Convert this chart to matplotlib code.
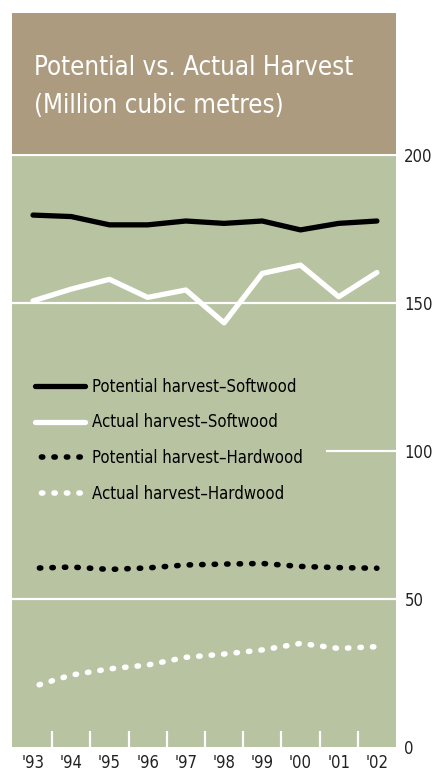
import matplotlib.pyplot as plt
from matplotlib.patches import Rectangle

years = ["'93", "'94", "'95", "'96", "'97", "'98", "'99", "'00", "'01", "'02"]
potential_soft = [179.7, 179.2, 176.4, 176.4, 177.7, 176.9, 177.7, 174.7, 176.9, 177.7]
actual_soft = [150.7, 154.7, 158.0, 151.9, 154.4, 143.3, 160.0, 162.8, 152.1, 160.3]
potential_hard = [60.4, 60.8, 60.0, 60.5, 61.5, 61.8, 62.0, 61.0, 60.6, 60.4]
actual_hard = [20.4, 24.3, 26.4, 27.7, 30.3, 31.4, 32.8, 35.0, 33.3, 33.9]
yticks = [0, 50, 100, 150, 200]

brown = '#ad9b80'
green = '#b7c3a1'
plt.rcParams['font.family'] = ['DejaVu Sans']
plt.rcParams['font.stretch'] = 'condensed'

W, H = 438, 773
fig = plt.figure(figsize=(W / 100, H / 100), dpi=100)

# title box
fig.patches.append(Rectangle((12 / W, 1 - 154 / H), 384 / W, 141 / H,
                             transform=fig.transFigure, facecolor=brown,
                             edgecolor='none', zorder=0))
fig.text(34 / W, 1 - 75 / H, 'Potential vs. Actual Harvest', color='white',
         fontsize=18.5, va='baseline', ha='left')
fig.text(34 / W, 1 - 113 / H, '(Million cubic metres)', color='white',
         fontsize=18.5, va='baseline', ha='left')

ax = fig.add_axes([12 / W, 1 - 747 / H, 384 / W, 592 / H])
ax.set_facecolor(green)
for s in ax.spines.values():
    s.set_visible(False)

x = list(range(len(years)))
ax.set_xlim(-0.55, 9.5)
ax.set_ylim(0, 200)

for v in yticks[1:]:
    ax.axhline(v, color='white', lw=1.6, zorder=1, clip_on=False)

dots = (1.1, (0.25, 2.0))
ax.plot(x, potential_soft, color='black', lw=3.8, solid_capstyle='round',
        solid_joinstyle='round', zorder=3, label='Potential harvest–Softwood')
ax.plot(x, actual_soft, color='white', lw=3.8, solid_capstyle='round',
        solid_joinstyle='round', zorder=3, label='Actual harvest–Softwood')
ax.plot(x, potential_hard, color='black', lw=4.0, linestyle=dots,
        dash_capstyle='round', zorder=3, label='Potential harvest–Hardwood')
ax.plot(x, actual_hard, color='white', lw=4.0, linestyle=dots,
        dash_capstyle='round', zorder=3, label='Actual harvest–Hardwood')

leg = ax.legend(loc='upper left', bbox_to_anchor=(-0.003, 0.664), fontsize=12,
                frameon=True, facecolor=green, edgecolor='none', framealpha=1,
                fancybox=False, handlelength=3.0, handletextpad=0.42,
                labelspacing=1.07, borderpad=1.42, borderaxespad=0)
leg.set_zorder(5)
leg.legendPatch.set_clip_path(ax.patch)

ax.yaxis.tick_right()
ax.set_yticks(yticks)
ax.tick_params(axis='y', length=0, pad=6, labelsize=12, labelcolor='#222222')

ax.set_xticks(x)
ax.set_xticklabels(years)
ax.set_xticks([i + 0.5 for i in x[:-1]], minor=True)
ax.tick_params(axis='x', which='major', length=0, pad=5, labelsize=12,
               labelcolor='#222222')
ax.tick_params(axis='x', which='minor', direction='in', length=11.5,
               width=1.6, color='white')

fig.savefig('out.png', dpi=100)
